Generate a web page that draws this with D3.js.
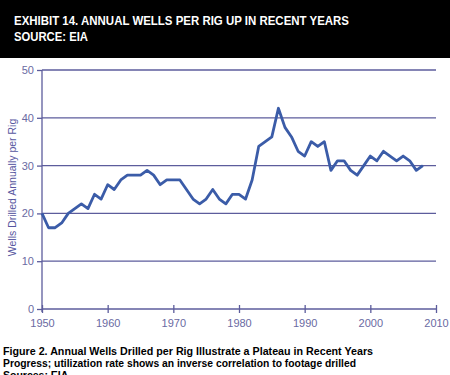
<!DOCTYPE html>
<html>
<head>
<script src="https://d3js.org/d3.v7.min.js"></script>
<style>
  body { margin: 0; background: #fff; }
  svg { display: block; font-family: Arial, "Liberation Sans", sans-serif; }
</style>
</head>
<body>
<div id="chart"></div>
<script>
// Data
const years = d3.range(1950, 2009);
const wellsPerRig = [
  20, 17, 17, 18, 20, 21, 22, 21, 24, 23,
  26, 25, 27, 28, 28, 28, 29, 28, 26, 27,
  27, 27, 25, 23, 22, 23, 25, 23, 22, 24,
  24, 23, 27, 34, 35, 36, 42, 38, 36, 33,
  32, 35, 34, 35, 29, 31, 31, 29, 28, 30,
  32, 31, 33, 32, 31, 32, 31, 29, 30
];
const xTicks = [1950, 1960, 1970, 1980, 1990, 2000, 2010];
const yTicks = [0, 10, 20, 30, 40, 50];

const titleLines = ["EXHIBIT 14. ANNUAL WELLS PER RIG UP IN RECENT YEARS", "SOURCE: EIA"];
const titleWidths = [335, 74];
const captionLines = [
  "Figure 2.  Annual Wells Drilled per Rig Illustrate a Plateau in Recent Years",
  "Progress; utilization rate shows an inverse correlation to footage drilled",
  "Sources: EIA"
];
const captionWidths = [370, 353, null];

const W = 450, H = 375;
const axisColor = "#5c5c9c", textColor = "#6a6aa2", lineColor = "#3b5ca8";

const svg = d3.select("#chart").append("svg")
  .attr("width", W).attr("height", H);

// black header band
svg.append("rect").attr("x", 0).attr("y", 0).attr("width", W).attr("height", 58).attr("fill", "#000");
svg.selectAll("text.title").data(titleLines).enter().append("text")
  .attr("class", "title")
  .attr("x", 14).attr("y", (d, i) => 25 + i * 16)
  .attr("fill", "#fff").attr("font-size", 12.5).attr("font-weight", "bold")
  .attr("textLength", (d, i) => titleWidths[i]).attr("lengthAdjust", "spacingAndGlyphs")
  .text(d => d);

// scales
const x = d3.scaleLinear().domain([1950, 2010]).range([42, 436]);
const y = d3.scaleLinear().domain([0, 50]).range([309, 70]);

// gridlines
svg.append("g").selectAll("line").data(yTicks.filter(d => d > 0)).enter().append("line")
  .attr("x1", x(1950)).attr("x2", x(2010))
  .attr("y1", d => y(d)).attr("y2", d => y(d))
  .attr("stroke", axisColor).attr("stroke-width", 1.3);

// y axis
const yAxis = svg.append("g").attr("transform", `translate(${x(1950)},0)`)
  .call(d3.axisLeft(y).tickValues(yTicks).tickSize(5).tickPadding(3));
yAxis.select(".domain").attr("stroke", axisColor).attr("stroke-width", 1.3)
  .attr("d", `M0,${y(50)}V${y(0) + 3}`);
yAxis.selectAll(".tick line").attr("stroke", axisColor).attr("stroke-width", 1.3);
yAxis.selectAll(".tick text").attr("fill", textColor).attr("font-size", 11)
  .attr("font-family", "Arial, 'Liberation Sans', sans-serif");

// x axis
const xAxis = svg.append("g").attr("transform", `translate(0,${y(0)})`)
  .call(d3.axisBottom(x).tickValues(xTicks).tickFormat(d3.format("d")).tickSize(4).tickPadding(6));
xAxis.select(".domain").attr("stroke", axisColor).attr("stroke-width", 1.3)
  .attr("d", `M${x(1950)},0H${x(2010)}`);
xAxis.selectAll(".tick line").attr("stroke", axisColor).attr("stroke-width", 1.3).attr("y1", -4);
xAxis.selectAll(".tick text").attr("fill", textColor).attr("font-size", 11)
  .attr("font-family", "Arial, 'Liberation Sans', sans-serif");

// y axis title
svg.append("text")
  .attr("transform", `translate(16,${(y(50) + y(0)) / 2 - 2}) rotate(-90)`)
  .attr("text-anchor", "middle")
  .attr("fill", "#5656a0").attr("font-size", 10.5)
  .text("Wells Drilled Annually per Rig");

// series line
const line = d3.line().x((d, i) => x(years[i])).y(d => y(d));
svg.append("path").datum(wellsPerRig)
  .attr("d", line)
  .attr("fill", "none").attr("stroke", lineColor).attr("stroke-width", 2.8)
  .attr("stroke-linejoin", "round");

// caption below (third line runs off the bottom edge, as in the source)
svg.selectAll("text.cap").data(captionLines).enter().append("text")
  .attr("class", "cap")
  .attr("x", 3).attr("y", (d, i) => 355 + i * 12)
  .attr("fill", "#000").attr("font-size", 10.5).attr("font-weight", "bold")
  .attr("textLength", (d, i) => captionWidths[i])
  .attr("lengthAdjust", "spacingAndGlyphs")
  .text(d => d);
</script>
</body>
</html>
